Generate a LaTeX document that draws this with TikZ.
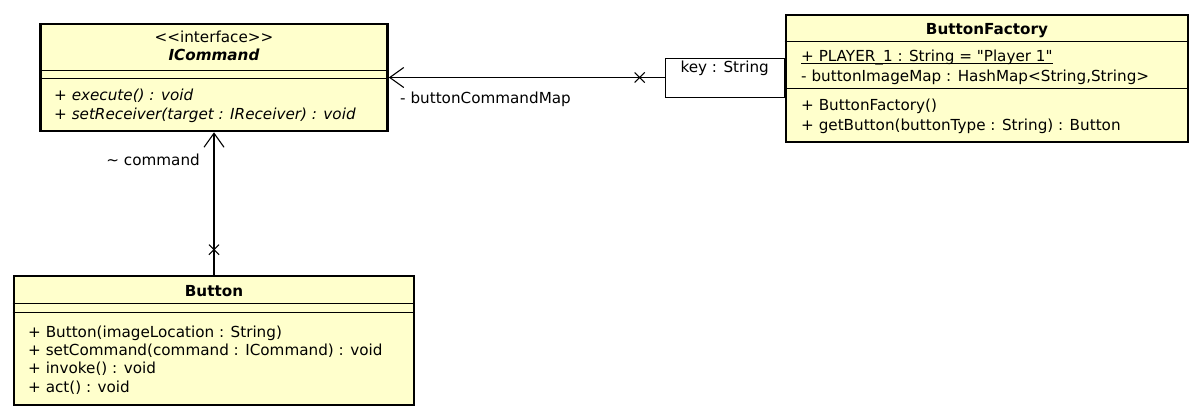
\documentclass[tikz,border=0pt]{standalone}
\usepackage{fontspec}
\setmainfont{DejaVu Sans}
\usetikzlibrary{positioning,calc,arrows.meta,shapes.misc}
\definecolor{umlyellow}{RGB}{255,255,204}
\tikzset{
  classbox/.style={draw, line width=2.6pt, fill=umlyellow, inner sep=0pt},
  qualbox/.style={draw, line width=1pt, fill=white, inner sep=0pt},
  sepline/.style={line width=1pt},
  member/.style={anchor=west, inner sep=0pt, text height=11pt, text depth=2pt, font=\fontsize{15.2}{17}\selectfont},
  title/.style={member, anchor=center},
  assoc/.style={line width=1.1pt, -{Straight Barb[length=14pt,width=20pt,line width=1.1pt]}},
  navx/.style={draw, line width=1.1pt, cross out, minimum size=9pt, inner sep=0pt},
}
\begin{document}
\begin{tikzpicture}[x=1pt, y=-1pt]
    \useasboundingbox (0,0) rectangle (1202,418);

    % Class boxes
    \node[classbox, minimum width=347pt, minimum height=107pt] (icommand) at (214,77.5) {};
    \node[classbox, minimum width=402pt, minimum height=127pt] (factory) at (987,78.5) {};
    \node[classbox, minimum width=400pt, minimum height=129pt] (button) at (214,340.5) {};

    % Compartment lines
    \foreach \cls/\a/\b in {icommand/48/56, factory/28/75, button/29/38} {
      \draw[sepline] ([yshift=-\a pt]\cls.north west) -- ([yshift=-\a pt]\cls.north east);
      \draw[sepline] ([yshift=-\b pt]\cls.north west) -- ([yshift=-\b pt]\cls.north east);
    }

    % ICommand
    \node[title] (icommand-st) at (214,38) {{<}{<}interface{>}{>}};
    \node[title] (icommand-name) at (214,56) {\bfseries\itshape ICommand};
    \node[member] (icommand-m1) at (54,96) {\itshape + execute() : void};
    \node[member] (icommand-m2) at (54,115) {\itshape + setReceiver(target : IReceiver) : void};

    % ButtonFactory
    \node[title] (factory-name) at (987,30) {\bfseries ButtonFactory};
    \node[member] (factory-a1) at (801,57) {\underline{\smash{+ PLAYER\_1 : String = \textquotedbl Player 1\textquotedbl}}};
    \node[member] (factory-a2) at (801,77) {- buttonImageMap : HashMap<String,String>};
    \node[member] (factory-m1) at (801,106) {+ ButtonFactory()};
    \node[member] (factory-m2) at (801,126) {+ getButton(buttonType : String) : Button};

    % Button
    \node[title] (button-name) at (214,292) {\bfseries Button};
    \node[member] (button-m1) at (28,333) {+ Button(imageLocation : String)};
    \node[member] (button-m2) at (28,351) {+ setCommand(command : ICommand) : void};
    \node[member] (button-m3) at (28,369) {+ invoke() : void};
    \node[member] (button-m4) at (28,388) {+ act() : void};

    % Qualifier on ButtonFactory
    \node[qualbox, minimum width=119pt, minimum height=39pt, anchor=east] (qual) at (factory.west |- 0,77.5) {};
    \node[member, anchor=north] (qual-key) at ([yshift=-4pt]qual.north) {key : String};

    % Associations
    \draw[assoc] (qual.west) -- (icommand.east);
    \node[navx] (qual-x) at ([xshift=-25pt]qual.west) {};
    \node[member] (map-label) at (400,99) {- buttonCommandMap};

    \draw[assoc] (button.north) -- (icommand.south);
    \node[navx] (button-x) at ([yshift=25pt]button.north) {};
    \node[member, anchor=east] (cmd-label) at (200,161) {\textasciitilde{} command};
\end{tikzpicture}
\end{document}
